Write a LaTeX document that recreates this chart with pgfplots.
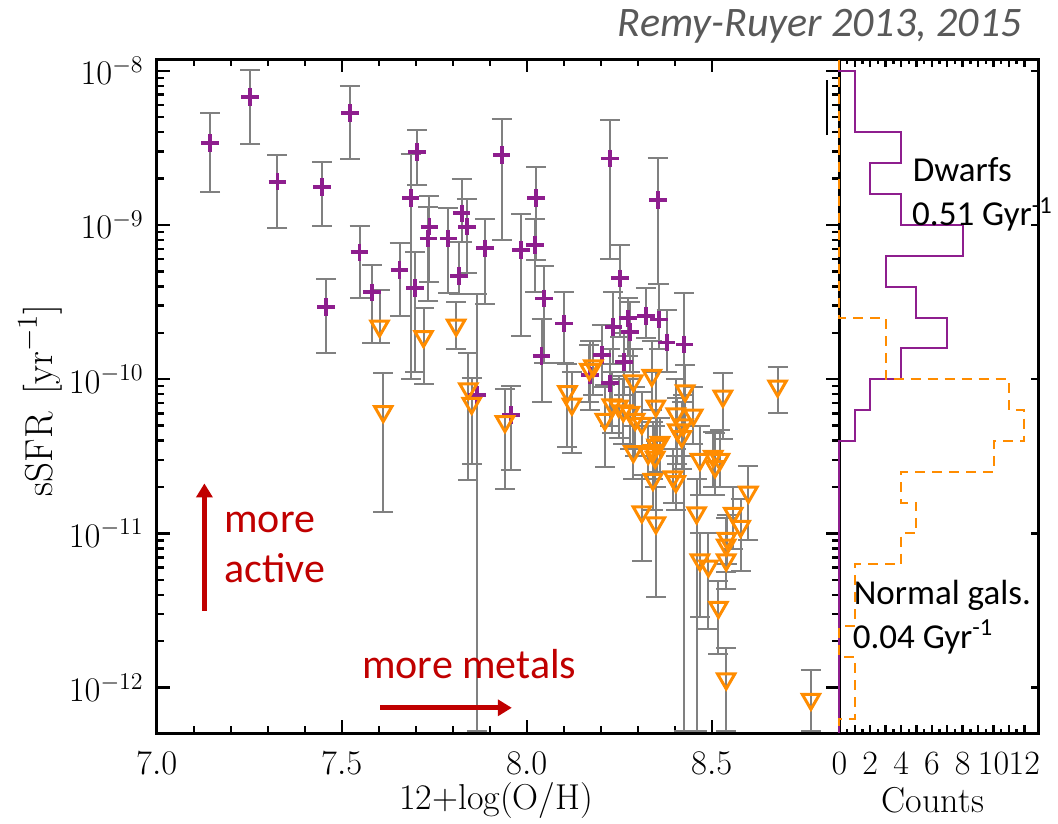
\documentclass[border=0pt]{standalone}
\usepackage{fontspec}
\usepackage{pgfplots}
\pgfplotsset{compat=1.18}
\usepackage{pgfplotstable}
\usetikzlibrary{arrows.meta}
\newfontfamily\calibri{Carlito}

\definecolor{dwarf}{RGB}{142,30,142}
\definecolor{normal}{RGB}{255,140,0}
\definecolor{ebar}{RGB}{128,128,128}
\definecolor{note}{RGB}{192,0,0}
\definecolor{cite}{RGB}{89,89,89}

% dwarf galaxies: x = 12+log(O/H), y = sSFR, lo/hi = ends of the error bar
\pgfplotstableread{
x y lo hi
7.144 3.41e-9 1.63e-9 5.30e-9
7.252 6.78e-9 3.35e-9 1.01e-8
7.326 1.91e-9 9.55e-10 2.86e-9
7.446 1.77e-9 9.89e-10 2.55e-9
7.522 5.30e-9 2.66e-9 8.00e-9
7.458 2.95e-10 1.49e-10 4.45e-10
7.548 6.65e-10 3.37e-10 9.89e-10
7.581 3.66e-10 1.71e-10 5.50e-10
7.656 5.11e-10 2.58e-10 7.60e-10
7.704 2.97e-9 1.82e-9 4.13e-9
7.686 1.49e-9 1.00e-10 2.87e-9
7.698 3.92e-10 1.12e-10 6.71e-10
7.737 9.75e-10 4.25e-10 1.54e-9
7.734 8.18e-10 3.23e-10 1.31e-9
7.788 8.18e-10 3.61e-10 1.28e-9
7.824 1.19e-9 7.73e-10 2.00e-9
7.838 9.75e-10 4.90e-10 1.47e-9
7.817 4.69e-10 3.55e-10 7.73e-10
7.887 7.06e-10 3.06e-10 1.10e-9
7.932 2.84e-9 7.98e-10 4.86e-9
7.985 6.89e-10 1.91e-10 1.18e-9
8.025 1.49e-9 5.93e-10 2.39e-9
8.022 7.41e-10 3.69e-10 1.09e-9
8.047 3.34e-10 1.27e-10 5.42e-10
8.040 1.42e-10 7.08e-11 2.44e-10
8.101 2.30e-10 1.27e-10 3.69e-10
8.225 2.70e-9 5.98e-10 4.79e-9
8.252 4.51e-10 1.89e-10 7.45e-10
8.354 1.45e-9 4.12e-10 2.73e-9
8.234 2.19e-10 1.26e-10 3.66e-10
8.203 1.44e-10 8.91e-11 2.24e-10
8.273 2.48e-10 1.41e-10 3.36e-10
8.279 2.03e-10 1.12e-10 3.16e-10
8.263 1.29e-10 7.94e-11 2.00e-10
8.322 2.58e-10 1.84e-10 3.92e-10
8.358 2.44e-10 1.58e-10 4.12e-10
8.378 1.73e-10 1.12e-10 2.82e-10
8.426 1.68e-10 5.20e-13 3.64e-10
7.865 7.91e-11 5.20e-13 3.55e-10
7.958 5.86e-11 2.58e-11 9.04e-11
8.225 9.40e-11 5.01e-11 1.58e-10
8.171 1.06e-10 6.31e-11 1.78e-10
}\dwarfs

% normal galaxies (upper limits)
\pgfplotstableread{
x y lo hi
7.602 2.21e-10 1.71e-10 3.78e-10
7.721 1.89e-10 9.27e-11 2.88e-10
7.809 2.24e-10 1.58e-10 3.16e-10
8.169 1.16e-10 7.08e-11 1.66e-10
8.180 1.22e-10 7.94e-11 1.78e-10
8.338 1.06e-10 6.31e-11 1.78e-10
8.110 8.30e-11 3.63e-11 1.26e-10
8.122 6.90e-11 3.31e-11 1.12e-10
8.288 9.77e-11 5.62e-11 1.58e-10
8.428 8.41e-11 5.01e-11 1.23e-10
8.349 6.70e-11 3.98e-11 1.12e-10
8.230 6.81e-11 4.47e-11 1.12e-10
8.248 6.70e-11 4.17e-11 1.05e-10
8.530 7.76e-11 4.07e-11 1.10e-10
8.678 9.02e-11 6.03e-11 1.20e-10
7.842 8.67e-11 2.22e-11 1.47e-10
7.851 6.98e-11 2.82e-11 1.02e-10
8.261 6.24e-11 3.80e-11 1.00e-10
8.279 6.10e-11 3.55e-11 1.00e-10
8.211 5.50e-11 2.69e-11 9.12e-11
8.293 5.50e-11 3.16e-11 8.91e-11
8.311 5.18e-11 3.16e-11 8.32e-11
8.403 5.96e-11 3.55e-11 1.00e-10
8.450 5.86e-11 3.80e-11 8.91e-11
8.423 5.05e-11 3.16e-11 7.94e-11
8.407 4.69e-11 2.82e-11 7.59e-11
8.419 4.24e-11 2.63e-11 7.08e-11
7.941 5.31e-11 1.93e-11 8.61e-11
7.612 6.17e-11 1.38e-11 1.09e-10
8.468 3.02e-11 1.78e-11 5.01e-11
8.504 3.16e-11 2.00e-11 4.57e-11
8.522 3.02e-11 2.00e-11 4.68e-11
8.509 2.71e-11 1.78e-11 4.47e-11
8.351 3.74e-11 2.51e-11 5.62e-11
8.342 3.44e-11 2.24e-11 5.25e-11
8.288 3.39e-11 2.24e-11 5.01e-11
8.347 3.12e-11 2.00e-11 5.01e-11
8.328 3.31e-11 2.24e-11 5.01e-11
8.360 3.89e-11 2.51e-11 5.62e-11
8.341 2.24e-11 1.41e-11 3.55e-11
8.395 2.33e-11 1.58e-11 3.55e-11
8.403 2.17e-11 1.41e-11 3.16e-11
8.599 1.85e-11 9.12e-12 2.75e-11
8.311 1.38e-11 6.61e-12 2.40e-11
8.349 1.17e-11 3.89e-12 2.00e-11
8.459 1.36e-11 5.20e-13 2.24e-11
8.558 1.35e-11 7.94e-12 2.00e-11
8.578 1.11e-11 5.75e-12 1.66e-11
8.541 9.29e-12 6.31e-12 1.32e-11
8.539 8.41e-12 5.62e-12 1.26e-11
8.468 6.73e-12 2.88e-12 1.00e-11
8.539 6.73e-12 4.37e-12 1.00e-11
8.491 6.15e-12 2.40e-12 1.00e-11
8.518 3.32e-12 1.66e-12 4.90e-12
8.539 1.14e-12 5.20e-13 1.80e-12
8.768 8.41e-13 5.20e-13 1.30e-12
}\normals

\begin{document}
\begin{tikzpicture}
\useasboundingbox (-78.4pt,-45pt) rectangle (450.6pt,366.5pt);

\begin{axis}[
    at={(0,0)}, anchor=south west,
    scale only axis, width=341.3pt, height=336.75pt,
    xmin=7.0, xmax=8.845, ymin=5.08e-13, ymax=1.183e-8,
    ymode=log,
    axis line style={line width=1.5pt},
    tick align=inside, xtick pos=both, ytick pos=both,
    tick style={black, line width=1.2pt},
    major tick length=6.5pt, minor tick length=3.5pt,
    xtick={7.0,7.5,8.0,8.5}, minor x tick num=4,
    ytick={1e-12,1e-11,1e-10,1e-9,1e-8},
    xticklabel style={/pgf/number format/fixed, /pgf/number format/precision=1, /pgf/number format/fixed zerofill},
    tick label style={font=\fontsize{17}{17}\selectfont},
    xticklabel shift=6pt, yticklabel shift=3pt,
    label style={font=\fontsize{18}{18}\selectfont},
    xlabel={12+log(O/H)},
    xlabel style={at={(axis description cs:0.497,-0.0995)}, anchor=center},
    ylabel={sSFR\, [yr$^{-1}$]},
    ylabel style={at={(axis description cs:-0.171,0.494)}, anchor=center, font=\fontsize{19.5}{19.5}\selectfont},
]
% error bars first, so the markers sit on top
\addplot[draw=none, mark=none,
    error bars/.cd, y dir=both, y explicit,
    error bar style={draw=ebar, line width=1pt},
    error mark options={draw=ebar, line width=1pt, mark size=5pt, rotate=90}]
    table[x=x, y=y, y error plus expr=\thisrow{hi}-\thisrow{y}, y error minus expr=\thisrow{y}-\thisrow{lo}] {\dwarfs};
\addplot[draw=none, mark=none,
    error bars/.cd, y dir=both, y explicit,
    error bar style={draw=ebar, line width=1pt},
    error mark options={draw=ebar, line width=1pt, mark size=5pt, rotate=90}]
    table[x=x, y=y, y error plus expr=\thisrow{hi}-\thisrow{y}, y error minus expr=\thisrow{y}-\thisrow{lo}] {\normals};
\addplot[black, line width=0.8pt] coordinates {(8.812,3.83e-9) (8.812,8.7e-9)};
\addplot[only marks, mark=+, mark size=4.4pt, dwarf, line width=1.9pt] table[x=x, y=y] {\dwarfs};
\addplot[only marks, mark=triangle, mark size=5pt, normal, line width=1.5pt,
    mark options={rotate=180, fill=none}] table[x=x, y=y] {\normals};
\end{axis}

% histogram of sSFR, bins of 0.2 dex
\begin{axis}[
    at={(341.3pt,0)}, anchor=south west,
    scale only axis, width=99.7pt, height=336.75pt,
    xmin=0, xmax=12.94, ymin=5.08e-13, ymax=1.183e-8,
    ymode=log, clip=false,
    axis line style={line width=1.5pt},
    tick align=inside, xtick pos=both, ytick pos=right,
    tick style={black, line width=1.2pt},
    major tick length=4pt, minor tick length=2pt,
    xtick={0,1,...,12}, xticklabels={0,,2,,4,,6,,8,,10,,12}, minor x tick num=1,
    ytick={1e-12,1e-11,1e-10,1e-9,1e-8}, yticklabels={}, yminorticks=false,
    tick label style={font=\fontsize{17}{17}\selectfont},
    xticklabel shift=6pt,
    label style={font=\fontsize{18}{18}\selectfont},
    xlabel={Counts},
    xlabel style={at={(axis description cs:0.469,-0.0995)}, anchor=center},
]
\addplot[dwarf, line width=1pt] coordinates {
    (0,1.183e-8) (0,1e-8) (1,1e-8) (1,3.98e-9) (4,3.98e-9) (4,2.51e-9)
    (2,2.51e-9) (2,1.585e-9) (4,1.585e-9) (4,1e-9) (8,1e-9) (8,6.31e-10)
    (3,6.31e-10) (3,3.98e-10) (5,3.98e-10) (5,2.51e-10) (7,2.51e-10) (7,1.585e-10)
    (4,1.585e-10) (4,1e-10) (2,1e-10) (2,6.31e-11) (1,6.31e-11) (1,3.98e-11)
    (0,3.98e-11) (0,5.08e-13)};
\addplot[normal, line width=1pt, dash pattern=on 5pt off 3.5pt] coordinates {
    (0,1.183e-8) (0,2.51e-10) (3,2.51e-10) (3,1e-10) (11,1e-10) (11,6.31e-11)
    (12,6.31e-11) (12,3.98e-11) (10,3.98e-11) (10,2.51e-11) (4,2.51e-11) (4,1.585e-11)
    (5,1.585e-11) (5,1e-11) (4,1e-11) (4,6.31e-12) (1,6.31e-12) (1,2.51e-12)
    (0,2.51e-12) (0,1.585e-12) (1,1.585e-12) (1,6.31e-13) (0,6.31e-13) (0,5.08e-13)};
\end{axis}

% annotations
\draw[note, line width=2.8pt, -{Triangle[width=8pt,length=7pt]}] (23.8pt,61.2pt) -- (23.8pt,124.8pt);
\draw[note, line width=2.6pt, -{Triangle[width=8pt,length=7pt]}] (111.6pt,12.6pt) -- (177.5pt,12.6pt);
\begin{scope}[every node/.style={anchor=base west, inner sep=0pt}]
\node[text=note, font=\calibri\fontsize{21}{24}\selectfont] at (33.6pt,100pt) {more};
\node[text=note, font=\calibri\fontsize{21}{24}\selectfont] at (33.6pt,75pt) {active};
\node[text=note, font=\calibri\fontsize{21}{24}\selectfont] at (102.5pt,27.3pt) {more metals};
\node[font=\calibri\fontsize{17.5}{20}\selectfont] at (377.8pt,275.6pt) {Dwarfs};
\node[font=\calibri\fontsize{17.5}{20}\selectfont] at (377.5pt,253.5pt) {0.51 Gyr\textsuperscript{-1}};
\node[font=\calibri\fontsize{17.5}{20}\selectfont] at (348.3pt,64pt) {Normal gals.};
\node[font=\calibri\fontsize{17.5}{20}\selectfont] at (347.8pt,42.3pt) {0.04 Gyr\textsuperscript{-1}};
\end{scope}
\node[anchor=base east, inner sep=0pt, text=cite, font=\calibri\itshape\fontsize{21}{24}\selectfont]
    at (432.6pt,348pt) {Remy-Ruyer 2013, 2015};
\end{tikzpicture}
\end{document}
